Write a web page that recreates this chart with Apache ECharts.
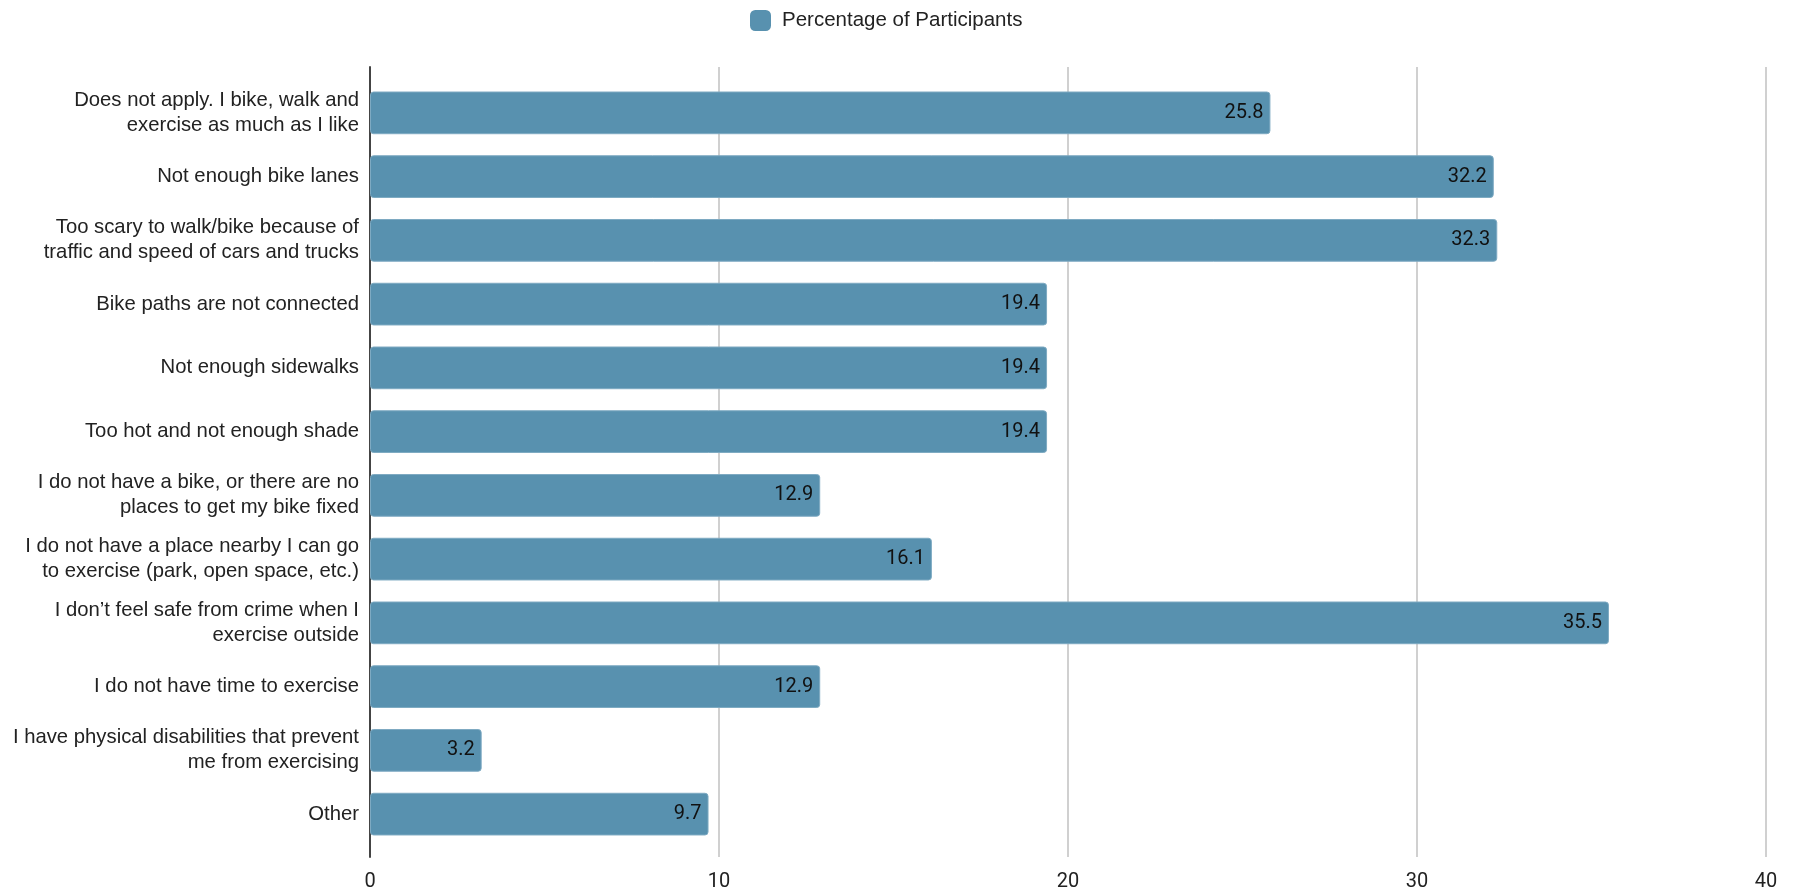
<!DOCTYPE html>
<html>
<head>
<meta charset="utf-8">
<script src="https://cdn.jsdelivr.net/npm/echarts@6/dist/echarts.min.js"></script>
<style>html,body{margin:0;padding:0;background:#fff;}#c{width:1793px;height:895px;}</style>
</head>
<body>
<div id="c"></div>
<script>
const categories = [
  'Does not apply. I bike, walk and\nexercise as much as I like',
  'Not enough bike lanes',
  'Too scary to walk/bike because of\ntraffic and speed of cars and trucks',
  'Bike paths are not connected',
  'Not enough sidewalks',
  'Too hot and not enough shade',
  'I do not have a bike, or there are no\nplaces to get my bike fixed',
  'I do not have a place nearby I can go\nto exercise (park, open space, etc.)',
  'I don\u2019t feel safe from crime when I\nexercise outside',
  'I do not have time to exercise',
  'I have physical disabilities that prevent\nme from exercising',
  'Other'
];
const values = [25.8, 32.2, 32.3, 19.4, 19.4, 19.4, 12.9, 16.1, 35.5, 12.9, 3.2, 9.7];
const seriesName = 'Percentage of Participants';
const xMin = 0, xMax = 40, xInterval = 10;

const chart = echarts.init(document.getElementById('c'), null, {renderer: 'canvas'});
chart.setOption({
  animation: false,
  backgroundColor: '#ffffff',
  legend: {
    left: 745, top: 5,
    itemWidth: 21, itemHeight: 21,
    icon: 'roundRect',
    itemStyle: {borderWidth: 0},
    textStyle: {fontFamily: "'Liberation Sans', Arial, sans-serif", fontSize: 20.5, color: '#222', padding: [0, 0, 0, 6]},
    data: [seriesName]
  },
  grid: [
    {left: 370, right: 27, top: 67, bottom: 38, outerBoundsMode: 'none', containLabel: false},
    {left: 370, right: 27, top: 81, bottom: 49, outerBoundsMode: 'none', containLabel: false}
  ],
  xAxis: [
    {
      gridIndex: 0, type: 'value', min: xMin, max: xMax, interval: xInterval,
      axisLine: {show: false}, axisTick: {show: false},
      axisLabel: {fontFamily: 'Roboto', fontSize: 20, color: '#222', margin: 15},
      splitLine: {show: true, lineStyle: {color: '#d0d0d0', width: 2}}
    },
    {
      gridIndex: 1, type: 'value', min: xMin, max: xMax, interval: xInterval,
      show: false, splitLine: {show: false}
    }
  ],
  yAxis: [
    {
      gridIndex: 0, type: 'value', min: 0, max: 1,
      axisLine: {show: true, lineStyle: {color: '#444', width: 2}},
      axisTick: {show: false}, axisLabel: {show: false}, splitLine: {show: false}
    },
    {
      gridIndex: 1, type: 'category', inverse: true, data: categories,
      axisLine: {show: false}, axisTick: {show: false}, splitLine: {show: false},
      axisLabel: {fontFamily: "'Liberation Sans', Arial, sans-serif", fontSize: 20.3, color: '#222', margin: 11, lineHeight: 25, align: 'right'}
    }
  ],
  series: [{
    name: seriesName,
    type: 'bar',
    xAxisIndex: 1, yAxisIndex: 1,
    data: values,
    barCategoryGap: '33%',
    itemStyle: {color: '#5891af', borderColor: '#7eaac2', borderWidth: 1, borderRadius: 3},
    label: {
      show: true, position: 'insideRight', distance: 7,
      fontFamily: 'Roboto', fontSize: 20, color: '#111',
      formatter: p => p.value.toFixed(1)
    }
  }]
});
</script>
</body>
</html>
